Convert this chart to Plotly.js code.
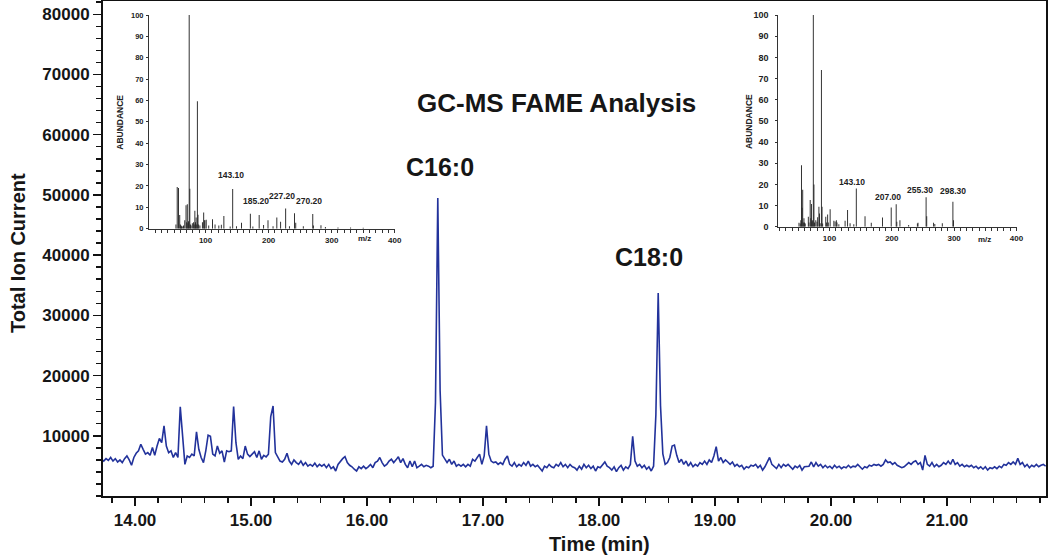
<!DOCTYPE html>
<html><head><meta charset="utf-8">
<script src="https://cdn.plot.ly/plotly-3.0.1.min.js"></script>
<style>html,body{margin:0;padding:0;background:#fff;}#chart{width:1050px;height:556px;}</style>
</head><body><div id="chart"></div>
<script>
// ---------- DATA ----------
const scanStart = 13.71;     // min, first scan
const scanInterval = 0.02;   // min between scans
const ticValues = [
6100,5800,6200,5900,6400,5800,6200,5650,6000,5550,
6200,6650,6000,5100,6400,7100,7500,8600,7750,6950,
7200,6750,8050,6750,8300,9550,8850,11650,8300,7200,
7500,6400,7200,6400,14800,9450,5250,6650,6400,6950,
6650,10650,7750,6400,5550,7500,10100,9900,6950,6650,
8300,7100,7500,5650,7500,7350,7500,14850,8850,6100,
6650,6200,8300,6950,6550,6950,7350,6400,7500,6100,
6750,6500,6950,13200,14950,7200,6400,5800,5650,6100,
7100,5800,5250,6000,5550,5250,5800,5100,5550,4950,
5250,4950,5450,4850,5250,4950,5250,4700,5250,4550,
4850,4150,5250,
5800,6200,6550,5550,5100,4850,4450,4150,4850,4550,
4950,4550,4850,5250,4700,5550,5800,6400,5550,4950,
5250,5800,6100,5550,6000,6500,5550,6200,5250,4700,
5800,4850,5800,4700,4950,5250,4850,5100,4950,4700,
4950,15500,49500,17500,6800,6100,5550,6100,5250,5800,
4950,5250,4950,5250,4850,5250,4950,6100,5800,6400,
6950,5250,6650,11650,6950,5800,5550,5650,5250,5550,
5250,6100,6650,5250,4950,5550,4850,5250,4950,5550,
5100,5800,4950,5250,4850,5100,4700,4150,4950,4700,
5250,4850,4700,5250,4950,5550,4850,5250,4700,5250,
4850,
4700,4300,4950,4450,5250,4700,5100,4550,4950,4150,
4850,4700,5100,5650,4950,4700,4300,4850,4050,4700,
5100,4300,4850,4550,5250,9900,5800,4950,5250,4700,
5100,4450,4850,4150,4950,13500,33700,15000,7000,5250,
5550,6400,8300,8450,6750,5550,6100,5250,5800,4950,
5550,4850,5250,4950,5550,5250,5800,5250,6000,5550,
6650,8200,5800,6400,5550,6000,5650,5250,5650,4950,
5250,4850,5100,4450,4850,4700,5100,4950,5250,4700,
5100,4300,4850,5550,6400,5250,4950,4550,5250,4700,
5250,4950,5250,4850,4450,4950,4700,5100,4300,4850,
4950,
4950,5650,4850,5550,4950,5250,4700,5100,4700,4950,
4550,5100,4700,4950,4550,4850,4700,5100,4700,4950,
4850,5250,4850,4450,4850,4700,5100,4950,5250,5100,
5250,4950,5250,6000,5550,5650,5250,5550,5100,4950,
4700,4850,5250,5550,5250,5650,5830,5250,5550,4300,
6750,5250,4950,5550,4850,5250,4850,5100,5550,5250,
5800,5250,6100,5250,5550,4950,5250,4850,5100,4850,
5100,4700,4950,4550,4850,4450,4850,4300,4700,4550,
4850,4550,4950,4700,5250,5100,5550,5250,5650,5250,
6250,5250,5550,4850,5250,4700,5100,4850,5250,4850,
5100,5250,4950
];
const yTickVals = [10000,20000,30000,40000,50000,60000,70000,80000];
const peakNames = ["C16:0","C18:0"];
const chartTitle = "GC-MS FAME Analysis";

// mass spectrum of C16:0 (left inset)
const spec1Mz =    [53,55,57,59,60,61,62,63,65,67,69,70,71,72,73,74,75,76,77,79,81,82,83,84,85,86,87,88,89,91,95,97,98,99,101,105,111,115,121,125,129,139,143,149,157,171,175,185,192,199,207,213,219,227,233,241,243,255,270,271,283,290,310,330,350];
const spec1Abund = [2,19.5,19,6.4,2,1.5,1.2,1,1.5,4,11,3,11.5,2.5,3.5,100,18.7,2,1.5,2.5,3,2,8.4,3,5.3,2,59.6,6.5,2,1.5,3,7.6,4,4,4.2,1.5,4.4,2,1.5,1.8,6,1,18.6,1.2,2.8,7,1,6.4,1.7,4,1.2,5.3,3.3,9.5,1.2,7.2,2.8,1.2,6.9,1.5,1.6,0.8,0.6,0.6,0.5];
const spec1LabelMz = [143,185,227,270];
const spec1LabelText = ["143.10","185.20","227.20","270.20"];

// mass spectrum of C18:0 (right inset)
const spec2Mz =    [51,53,54,55,56,57,58,59,60,61,66,67,69,70,71,72,73,74,75,76,78,80,81,83,84,85,87,88,89,94,95,97,98,101,107,109,111,112,115,125,129,133,139,143,157,167,185,199,207,208,213,227,241,242,255,256,267,269,281,298,299];
const spec2Abund = [1.9,1.5,3,29,9,17.5,2,4,2,1.5,4.7,2,12.6,4,10.7,2.5,3,100,20,2,3,2.4,4.5,9.4,6.3,1.6,74,9.4,1.5,4.7,2,5.8,2,8.2,2.8,2.5,3.1,2,1.2,2.8,7.9,1.6,1.2,18,5,1.9,4.4,9.1,10.6,2.4,3.1,0.8,1.5,1.9,13.9,5,1.9,1.3,1.6,11.8,3.1];
const spec2LabelMz = [143,207,255,298];
const spec2LabelText = ["143.10","207.00","255.30","298.30"];

// ---------- BUILD ----------
const ticTimes = ticValues.map((_, i) => +(scanStart + i * scanInterval).toFixed(2));
const FONT = 'Liberation Sans, Arial, Helvetica, sans-serif';
const INK = '#161616';

function abundOf(mzArr, abArr, m){ const k = mzArr.indexOf(m); return k >= 0 ? abArr[k] : 0; }

const traces = [
  {type:'scatter', mode:'lines', x:ticTimes, y:ticValues, xaxis:'x', yaxis:'y',
   line:{color:'#22329b', width:1.6}, hoverinfo:'skip'},
  {type:'bar', x:spec1Mz, y:spec1Abund, xaxis:'x2', yaxis:'y2', width:1.5,
   marker:{color:'#262626', line:{width:0}}, hoverinfo:'skip'},
  {type:'bar', x:spec2Mz, y:spec2Abund, xaxis:'x3', yaxis:'y3', width:1.5,
   marker:{color:'#262626', line:{width:0}}, hoverinfo:'skip'}
];

function insetX(domain, range, yAnchor){
  return {domain:domain, anchor:yAnchor, range:range, tick0:0, dtick:100,
    ticks:'outside', ticklen:3, tickwidth:1, tickcolor:'#333',
    showline:true, linewidth:1, linecolor:'#333', showgrid:false, zeroline:false,
    minor:{dtick:10, tick0:0, ticks:'outside', ticklen:3, tickwidth:1, tickcolor:'#333', showgrid:false},
    tickfont:{family:FONT, size:8, color:'#222', weight:'bold'}, ticklabelstandoff:1};
}
function insetY(domain, xAnchor, fs, standoff){
  return {domain:domain, anchor:xAnchor, range:[0,100], tick0:0, dtick:10,
    ticks:'outside', ticklen:2, tickwidth:1, tickcolor:'#333',
    showline:true, linewidth:1, linecolor:'#333', showgrid:false, zeroline:false,
    tickfont:{family:FONT, size:fs, color:'#222', weight:'bold'}, ticklabelstandoff:standoff};
}

function paperText(x, y, text, size, angle){
  return {xref:'paper', yref:'paper', x:x, y:y, text:text, showarrow:false,
    xanchor:'center', yanchor:'middle', textangle:angle || 0,
    font:{family:FONT, size:size, color:size < 10 ? '#222' : INK, weight:'bold'}};
}

const annotations = [
  paperText(0.526, -0.097, 'Time (min)', 20),
  paperText(-0.0901, 0.491, 'Total Ion Current', 20, -90),
  paperText(0.4814, 0.794, chartTitle, 26),
  paperText(0.3574, 0.664, peakNames[0], 25),
  paperText(0.5795, 0.4838, peakNames[1], 25),
  paperText(0.018, 0.756, 'ABUNDANCE', 8.5, -90),
  paperText(0.2778, 0.521, 'm/z', 8),
  paperText(0.6843, 0.756, 'ABUNDANCE', 8.5, -90),
  paperText(0.9353, 0.519, 'm/z', 8)
];
const shift1 = [[-2,7],[-3,7],[-4,5],[-4,6]];
spec1LabelMz.forEach((m, k) => annotations.push({
  xref:'x2', yref:'y2', x:m, y:abundOf(spec1Mz, spec1Abund, m), text:spec1LabelText[k],
  showarrow:false, xanchor:'center', yanchor:'bottom', xshift:shift1[k][0], yshift:shift1[k][1],
  font:{family:FONT, size:8.5, color:'#222', weight:'bold'}}));
const shift2 = [[-4,0],[-8,0],[-6,0],[0,4]];
spec2LabelMz.forEach((m, k) => annotations.push({
  xref:'x3', yref:'y3', x:m, y:abundOf(spec2Mz, spec2Abund, m), text:spec2LabelText[k],
  showarrow:false, xanchor:'center', yanchor:'bottom', xshift:shift2[k][0], yshift:shift2[k][1],
  font:{family:FONT, size:8.5, color:'#222', weight:'bold'}}));

const layout = {
  width:1050, height:556, margin:{l:103, r:4, t:1, b:60},
  paper_bgcolor:'#ffffff', plot_bgcolor:'#ffffff', showlegend:false,
  font:{family:FONT, color:INK},
  xaxis:{domain:[0,1], anchor:'y', range:[13.724,21.853], tick0:14, dtick:1, tickformat:'.2f',
    ticks:'outside', ticklen:8, tickwidth:1.5, tickcolor:'#111',
    showline:true, linewidth:2, linecolor:'#111', mirror:true, showgrid:false, zeroline:false,
    minor:{dtick:0.2, tick0:14, ticks:'outside', ticklen:5, tickwidth:1.5, tickcolor:'#111', showgrid:false},
    tickfont:{family:FONT, size:17, color:INK, weight:'bold'}},
  yaxis:{domain:[0,1], anchor:'x', range:[0,82200], tickvals:yTickVals, ticktext:yTickVals.map(String),
    ticks:'outside', ticklen:8, tickwidth:1.5, tickcolor:'#111',
    showline:true, linewidth:2, linecolor:'#111', mirror:true, showgrid:false, zeroline:false,
    minor:{dtick:2000, tick0:0, ticks:'outside', ticklen:5, tickwidth:1.5, tickcolor:'#111', showgrid:false},
    tickfont:{family:FONT, size:17, color:INK, weight:'bold'}},
  xaxis2:insetX([0.0488,0.3097],[10.3,400.5],'y2'),
  yaxis2:insetY([0.540,0.9717],'x2',7.5,1),
  xaxis3:insetX([0.7161,0.9696],[17.8,401.4],'y3'),
  yaxis3:insetY([0.544,0.9717],'x3',9,5),
  annotations:annotations
};

Plotly.newPlot('chart', traces, layout, {displayModeBar:false, staticPlot:true});
</script>
</body></html>
